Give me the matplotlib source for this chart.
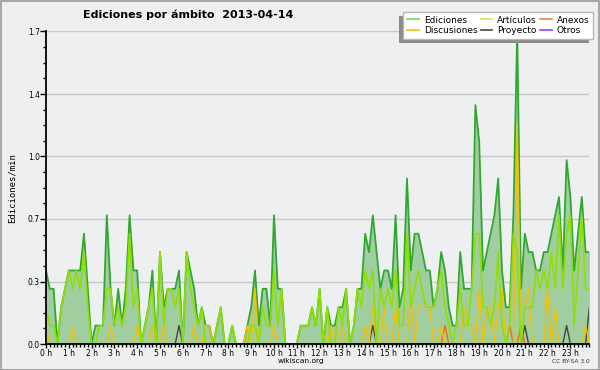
import numpy as np
import matplotlib
matplotlib.use("Agg")
import matplotlib.pyplot as plt
from matplotlib.patches import Rectangle
from matplotlib.lines import Line2D
from matplotlib.ticker import FixedLocator, MultipleLocator, FuncFormatter

# ---- data: edits/min in 10-minute bins (144 bins = 24 h) ----
hour_labels = [f"{h} h" for h in range(24)]

ediciones = [
    0.4, 0.3, 0.3, 0.0, 0.2, 0.3, 0.4, 0.4, 0.4, 0.4,
    0.6, 0.3, 0.0, 0.1, 0.1, 0.1, 0.7, 0.3, 0.1, 0.3,
    0.1, 0.3, 0.7, 0.4, 0.4, 0.0, 0.1, 0.2, 0.4, 0.0,
    0.5, 0.2, 0.3, 0.3, 0.3, 0.4, 0.0, 0.5, 0.4, 0.3,
    0.1, 0.2, 0.1, 0.1, 0.0, 0.1, 0.2, 0.0, 0.0, 0.1,
    0.0, 0.0, 0.0, 0.1, 0.2, 0.4, 0.1, 0.3, 0.3, 0.1,
    0.7, 0.3, 0.3, 0.0, 0.0, 0.0, 0.0, 0.1, 0.1, 0.1,
    0.2, 0.1, 0.3, 0.0, 0.2, 0.1, 0.1, 0.2, 0.2, 0.3,
    0.0, 0.1, 0.3, 0.3, 0.6, 0.5, 0.7, 0.5, 0.3, 0.4,
    0.4, 0.3, 0.7, 0.2, 0.3, 0.9, 0.4, 0.6, 0.6, 0.5,
    0.4, 0.4, 0.2, 0.3, 0.5, 0.4, 0.2, 0.1, 0.1, 0.5,
    0.3, 0.3, 0.3, 1.3, 1.1, 0.4, 0.5, 0.6, 0.7, 0.9,
    0.4, 0.2, 0.2, 0.7, 1.7, 0.3, 0.6, 0.5, 0.5, 0.4,
    0.4, 0.5, 0.5, 0.6, 0.7, 0.8, 0.4, 1.0, 0.8, 0.4,
    0.6, 0.8, 0.5, 0.5,
]

articulos = [
    0.2, 0.1, 0.1, 0.0, 0.2, 0.3, 0.4, 0.3, 0.4, 0.3,
    0.5, 0.2, 0.0, 0.0, 0.1, 0.1, 0.3, 0.3, 0.1, 0.2,
    0.1, 0.2, 0.6, 0.2, 0.3, 0.0, 0.1, 0.2, 0.3, 0.0,
    0.5, 0.1, 0.3, 0.3, 0.2, 0.3, 0.0, 0.5, 0.3, 0.2,
    0.1, 0.2, 0.0, 0.0, 0.0, 0.1, 0.2, 0.0, 0.0, 0.1,
    0.0, 0.0, 0.0, 0.0, 0.1, 0.1, 0.0, 0.2, 0.1, 0.1,
    0.4, 0.1, 0.3, 0.0, 0.0, 0.0, 0.0, 0.1, 0.1, 0.1,
    0.2, 0.1, 0.3, 0.0, 0.2, 0.0, 0.0, 0.2, 0.1, 0.3,
    0.0, 0.1, 0.3, 0.2, 0.4, 0.3, 0.4, 0.0, 0.3, 0.2,
    0.3, 0.2, 0.4, 0.1, 0.1, 0.6, 0.2, 0.3, 0.4, 0.3,
    0.2, 0.2, 0.2, 0.3, 0.4, 0.2, 0.1, 0.0, 0.1, 0.3,
    0.1, 0.1, 0.3, 0.6, 0.6, 0.2, 0.2, 0.1, 0.2, 0.5,
    0.1, 0.0, 0.1, 0.6, 0.5, 0.0, 0.2, 0.2, 0.2, 0.4,
    0.3, 0.4, 0.3, 0.5, 0.3, 0.7, 0.3, 0.6, 0.7, 0.1,
    0.4, 0.7, 0.3, 0.3,
]

discusiones_bins = [0, 7, 17, 24, 28, 31, 39, 42, 43, 53, 55, 60, 75, 78, 84, 86,
                    89, 92, 96, 98, 99, 100, 101, 104, 110, 111, 112, 114, 116,
                    117, 119, 120, 124, 126, 127, 132, 134, 142]
discusiones_vals = [0.1, 0.1, 0.1, 0.1, 0.1, 0.1, 0.1, 0.1, 0.1, 0.1, 0.3, 0.1, 0.1, 0.1, 0.1, 0.2,
                    0.2, 0.2, 0.3, 0.2, 0.2, 0.2, 0.2, 0.1, 0.2, 0.1, 0.1, 0.3, 0.2,
                    0.2, 0.2, 0.3, 1.2, 0.2, 0.3, 0.3, 0.2, 0.1]

anexos_bins = [105, 122, 125]
anexos_vals = [0.1, 0.1, 0.1]

proyecto_bins = [35, 86, 126, 137, 143]
proyecto_vals = [0.1, 0.1, 0.1, 0.1, 0.2]

otros_bins = []
otros_vals = []

n = len(ediciones)
x = np.arange(n)

def sparse(bins, vals):
    arr = np.zeros(n)
    for b, v in zip(bins, vals):
        arr[b] = v
    return arr

discusiones = sparse(discusiones_bins, discusiones_vals)
anexos = sparse(anexos_bins, anexos_vals)
proyecto = sparse(proyecto_bins, proyecto_vals)
otros = sparse(otros_bins, otros_vals)

# ---- styling ----
BG = "#eeeff1"
C_ED_LINE = "#30a830"
C_ED_FILL = "#a0cea0"
C_ART = "#8fe000"
C_DIS = "#f5c000"
C_ANX = "#f06a1e"
C_PRO = "#444444"
C_OTR = "#9a44ee"

W, H = 600, 370
fig = plt.figure(figsize=(6.0, 3.7), dpi=100, facecolor=BG)
ax = fig.add_axes([46 / W, (H - 344) / H, (589.4 - 46) / W, (344 - 31.5) / H])
ax.set_facecolor(BG)

ax.fill_between(x, 0, ediciones, color=C_ED_FILL, lw=0, zorder=2)
ax.plot(x, ediciones, color=C_ED_LINE, lw=1.3, zorder=3)
ax.plot(x, otros, color=C_OTR, lw=1.0, zorder=4)
ax.plot(x, proyecto, color=C_PRO, lw=1.0, zorder=5)
ax.plot(x, anexos, color=C_ANX, lw=1.0, zorder=6)
ax.plot(x, discusiones, color=C_DIS, lw=1.0, zorder=7)
ax.plot(x, articulos, color=C_ART, lw=1.2, zorder=8)

ax.set_xlim(0, n - 1)
ax.set_ylim(0, 1.7)

ax.xaxis.set_major_locator(FixedLocator(np.arange(0, n, 6)))
ax.set_xticklabels(hour_labels)
ax.xaxis.set_minor_locator(MultipleLocator(1))
ax.yaxis.set_major_locator(FixedLocator(np.linspace(0, 1.7, 6)))
ax.yaxis.set_major_formatter(FuncFormatter(lambda v, p: f"{v:.1f}"))
ax.yaxis.set_minor_locator(FixedLocator(np.arange(0, 1.71, 0.085)))

ax.tick_params(axis="x", which="major", direction="out", length=3, width=1,
               labelsize=5.5, pad=0.5)
ax.tick_params(axis="x", which="minor", direction="out", length=2.5, width=1)
ax.tick_params(axis="y", which="major", direction="out", length=4, width=1,
               labelsize=5.5, pad=0.3)
ax.tick_params(axis="y", which="minor", direction="out", length=2.5, width=1)

for s in ["top", "right"]:
    ax.spines[s].set_visible(False)
for s in ["left", "bottom"]:
    ax.spines[s].set_linewidth(1.3)
    ax.spines[s].set_zorder(10)

ax.yaxis.grid(True, which="major", color="#c8c8c8", lw=1)
ax.set_axisbelow(True)

ax.set_ylabel("Ediciones/min", fontsize=6.5, family="DejaVu Sans Mono", labelpad=8)

fig.text(188 / W, 1 - 15 / H, "Ediciones por ámbito  2013-04-14", ha="center",
         va="center", fontsize=8, fontweight="bold")
fig.text(301 / W, 1 - 361.5 / H, "wikiscan.org", ha="center", va="center", fontsize=5.4)
fig.text(590 / W, 1 - 361.5 / H, "CC BY-SA 3.0", ha="right", va="center",
         fontsize=4.2, color="#333333")

# legend
handles = [
    Line2D([], [], color="#80cc80", lw=1.2),  # Ediciones
    Line2D([], [], color=C_DIS, lw=1.2),      # Discusiones
    Line2D([], [], color="#c8ee55", lw=1.2),  # Artículos
    Line2D([], [], color=C_PRO, lw=1.2),      # Proyecto
    Line2D([], [], color="#f08050", lw=1.2),  # Anexos
    Line2D([], [], color=C_OTR, lw=1.2),      # Otros
]
labels = ["Ediciones", "Discusiones", "Artículos", "Proyecto", "Anexos", "Otros"]
leg = fig.legend(handles, labels, ncol=3, loc="upper right",
                 bbox_to_anchor=(593 / W, 1 - 12 / H), fontsize=6.5,
                 frameon=True, fancybox=False, shadow=False,
                 handlelength=1.3, handletextpad=0.55, columnspacing=0.35,
                 labelspacing=0.15, borderpad=0.4, borderaxespad=0)
leg.get_frame().set_facecolor("white")
leg.get_frame().set_edgecolor("#b8b8b8")
leg.get_frame().set_linewidth(1)
leg.get_frame().set_alpha(1)
leg.set_zorder(30)

# shadow behind legend, offset left/down
fig.canvas.draw()
bb = leg.get_window_extent()
fig.patches.append(Rectangle(((bb.x0 - 4) / W, (bb.y0 - 4) / H), bb.width / W, bb.height / H,
                             transform=fig.transFigure, facecolor="#8c8c8c",
                             edgecolor="none", zorder=20))

fig.patches.append(Rectangle((0.5 / W, 0.5 / H), 1 - 1.5 / W, 1 - 1.5 / H,
                             transform=fig.transFigure, facecolor="none",
                             edgecolor="#a8a8a8", lw=1.5, zorder=50))

fig.savefig("out.png", dpi=100, facecolor=BG)
